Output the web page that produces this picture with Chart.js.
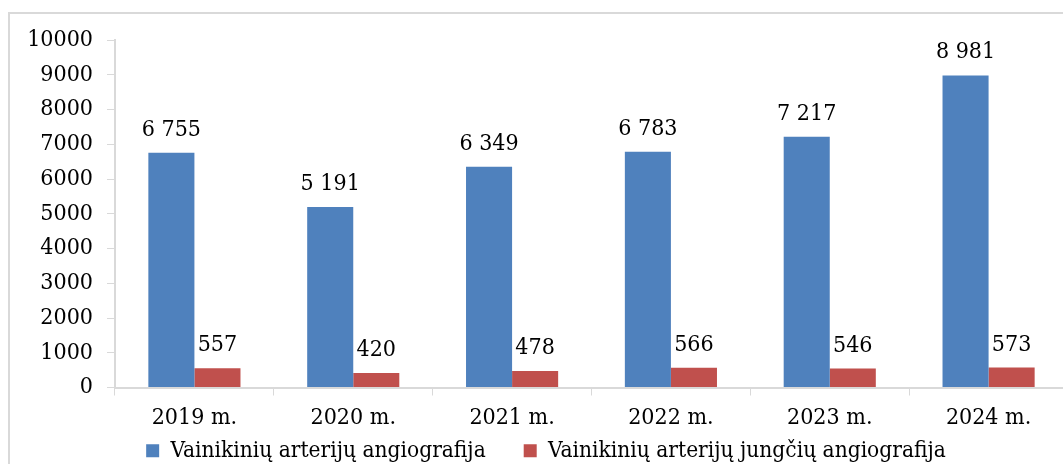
<!DOCTYPE html>
<html lang="lt">
<head>
<meta charset="UTF-8">
<title>Angiografijos</title>
<script src="https://cdn.jsdelivr.net/npm/chart.js"></script>
<style>
    html, body { margin: 0; padding: 0; background: #fff; overflow: hidden; }
    .frame {
        position: absolute; left: 8px; top: 12px; width: 1200px; height: 600px;
        border-left: 2px solid #d9d9d9; border-top: 2px solid #d9d9d9;
    }
    .wrap { position: absolute; left: 0; top: 0; width: 1092px; height: 498px; }
</style>
</head>
<body>
<div class="frame"></div>
<div class="wrap"><canvas id="chart"></canvas></div>
<script>
const years = ['2019 m.', '2020 m.', '2021 m.', '2022 m.', '2023 m.', '2024 m.'];
const coronary = [6755, 5191, 6349, 6783, 7217, 8981];
const bypass = [557, 420, 478, 566, 546, 573];
const seriesNames = ['Vainikinių arterijų angiografija', 'Vainikinių arterijų jungčių angiografija'];
const yTicks = [0, 1000, 2000, 3000, 4000, 5000, 6000, 7000, 8000, 9000, 10000];

const FONT = "'DejaVu Serif Condensed', 'DejaVu Serif', serif";

function fmt(v) {
    return String(v).replace(/\B(?=(\d{3})+(?!\d))/g, ' ');
}

// value labels above bars
const barLabels = {
    id: 'barLabels',
    afterDatasetsDraw(chart) {
        const ctx = chart.ctx;
        ctx.save();
        ctx.font = '23px ' + FONT;
        ctx.fillStyle = '#000';
        ctx.textAlign = 'center';
        ctx.textBaseline = 'alphabetic';
        chart.data.datasets.forEach((ds, i) => {
            chart.getDatasetMeta(i).data.forEach((bar, j) => {
                ctx.fillText(fmt(ds.data[j]), bar.x, bar.y - 17);
            });
        });
        ctx.restore();
    }
};

// wide gap between legend items needs big padding; pull the legend back up
const legendNudge = {
    id: 'legendNudge',
    afterLayout(chart) {
        chart.legend.top -= 26;
        chart.legend.bottom -= 26;
    }
};

new Chart(document.getElementById('chart'), {
    type: 'bar',
    data: {
        labels: years,
        datasets: [
            { label: seriesNames[0], data: coronary, backgroundColor: '#4F81BD' },
            { label: seriesNames[1], data: bypass, backgroundColor: '#C0504D' }
        ]
    },
    options: {
        responsive: true,
        maintainAspectRatio: false,
        animation: false,
        layout: { padding: { left: 24, right: 24, top: 40, bottom: 0 } },
        datasets: { bar: { barPercentage: 1, categoryPercentage: 0.58 } },
        plugins: {
            tooltip: { enabled: false },
            legend: {
                position: 'bottom',
                labels: {
                    font: { family: FONT, size: 22.5 },
                    color: '#000',
                    boxWidth: 13,
                    boxHeight: 13,
                    padding: 38
                }
            }
        },
        scales: {
            x: {
                grid: { display: true, drawOnChartArea: false, tickLength: 8, color: '#d9d9d9', offset: true },
                border: { color: '#d9d9d9', width: 2 },
                ticks: { font: { family: FONT, size: 23 }, color: '#000', padding: 9 },
                afterFit(s) { s.height = 40; }
            },
            y: {
                min: 0,
                max: 10000,
                afterBuildTicks(s) { s.ticks = yTicks.map(v => ({ value: v })); },
                grid: { display: true, drawOnChartArea: false, tickLength: 8, color: '#d9d9d9' },
                border: { color: '#d9d9d9', width: 2 },
                ticks: {
                    font: { family: FONT, size: 23 }, color: '#000', padding: 14,
                    callback: v => String(v)
                },
                afterFit(s) { s.width = 91; }
            }
        }
    },
    plugins: [barLabels, legendNudge]
});
</script>
</body>
</html>
